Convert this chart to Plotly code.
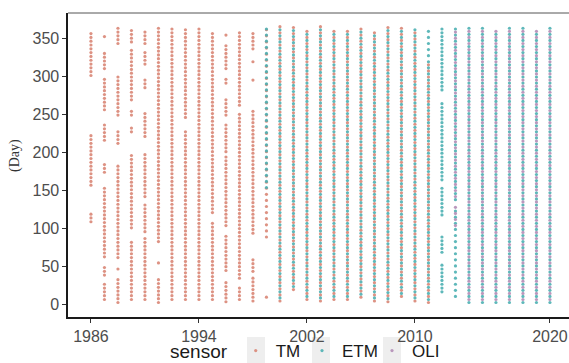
import numpy as np
import plotly.graph_objects as go

# ---- data (acquisition day-of-year windows per year) ----
years = list(range(1986, 2021))

tm_windows = {
    1986: [(301, 358), (157, 223), (109, 120)],
    1987: [(352, 352), (310, 330), (256, 298), (216, 240), (174, 186), (63, 155), (39, 50), (7, 29)],
    1988: [(343, 364), (249, 299), (212, 229), (62, 186), (47, 47), (3, 33)],
    1989: [(345, 364), (269, 334), (249, 256), (227, 236), (101, 199), (7, 83)],
    1990: [(343, 361), (316, 332), (285, 297), (221, 251), (142, 197), (96, 131), (7, 89)],
    1991: [(83, 364), (55, 55), (3, 37)],
    1992: [(7, 365)],
    1993: [(7, 228), (246, 362)],
    1994: [(7, 364)],
    1995: [(7, 110), (121, 358)],
    1996: [(354, 354), (310, 341), (291, 300), (249, 273), (201, 237), (104, 195), (45, 92), (4, 32)],
    1997: [(7, 22), (35, 250), (262, 358)],
    1998: [(336, 360), (319, 319), (295, 295), (94, 256), (44, 59), (5, 35)],
    1999: [(89, 362), (10, 10)],
    2000: [(5, 365)],
    2001: [(20, 365)],
    2002: [(7, 362)],
    2003: [(5, 365)],
    2004: [(7, 362)],
    2005: [(7, 362)],
    2006: [(10, 365)],
    2007: [(5, 360)],
    2008: [(4, 364)],
    2009: [(11, 365)],
    2010: [(5, 362)],
    2011: [(3, 320)],
}

etm_windows = {
    1999: [(150, 362)],
    2000: [(5, 365)],
    2001: [(20, 365)],
    2002: [(7, 362)],
    2003: [(5, 365)],
    2004: [(7, 362)],
    2005: [(7, 362)],
    2006: [(10, 365)],
    2007: [(5, 360)],
    2008: [(4, 364)],
    2009: [(11, 365)],
    2010: [(5, 362)],
    2011: [(3, 362)],
    2012: [(17, 55), (69, 92), (118, 153), (164, 265), (282, 365)],
    2013: [(11, 129), (138, 362)],
    2014: [(3, 364)],
    2015: [(3, 365)],
    2016: [(3, 362)],
    2017: [(3, 364)],
    2018: [(3, 365)],
    2019: [(3, 362)],
    2020: [(3, 364)],
}

oli_windows = {
    2013: [(100, 129), (138, 362)],
    2014: [(3, 364)],
    2015: [(3, 365)],
    2016: [(3, 362)],
    2017: [(3, 364)],
    2018: [(3, 365)],
    2019: [(3, 362)],
    2020: [(3, 364)],
}

single_revisit = 5   # days between scenes when one sensor flies
dual_revisit = 8     # days between scenes per sensor when two sensors fly
x_ticks = [1986, 1994, 2002, 2010, 2020]
y_ticks = [0, 50, 100, 150, 200, 250, 300, 350]

sensor_order = ["TM", "ETM", "OLI"]
sensor_windows = {"TM": tm_windows, "ETM": etm_windows, "OLI": oli_windows}
colors = {"TM": "#D98676", "ETM": "#4DB0B2", "OLI": "#B38DB6"}


def expand(sensor):
    xs, ys = [], []
    for yr, wins in sensor_windows[sensor].items():
        active = [s for s in sensor_order if yr in sensor_windows[s]]
        step = single_revisit if len(active) == 1 else dual_revisit
        offset = 0 if active.index(sensor) == 0 else dual_revisit // 2
        for a, b in wins:
            d = np.arange(a + (offset if b - a >= step else 0), b + 1, step)
            if len(d) == 0:
                d = np.array([a])
            xs.extend([yr] * len(d))
            ys.extend(d.tolist())
    return xs, ys


W, H = 569, 363
ml, mr, mt, mb = 68, 0, 13, 46
pw, ph = W - ml - mr, H - mt - mb


def px_x(p):
    return (p - ml) / pw


def px_y(p):
    return (H - mb - p) / ph


legend_names = {"TM": "legend", "ETM": "legend2", "OLI": "legend3"}

fig = go.Figure()
for s in sensor_order:
    xs, ys = expand(s)
    fig.add_trace(go.Scatter(
        x=xs, y=ys, mode="markers", name=s, legend=legend_names[s],
        marker=dict(size=3.2, color=colors[s], opacity=0.9, line=dict(width=0)),
    ))

shapes = [
    # mask the stray right-edge artefact (no data lives there)
    dict(type="rect", xref="paper", yref="paper", x0=px_x(561), x1=1.01,
         y0=px_y(315.5), y1=px_y(14.5), fillcolor="white", line=dict(width=0), layer="above"),
    dict(type="line", xref="paper", yref="paper", x0=0, x1=1, y0=1, y1=1,
         line=dict(color="#555555", width=1), layer="above"),
]
for k0 in (247, 312, 383):
    shapes.append(dict(type="rect", xref="paper", yref="paper",
                       x0=px_x(k0), x1=px_x(k0 + 18), y0=px_y(363), y1=px_y(337),
                       fillcolor="#EEEEEE", line=dict(width=0), layer="below"))

leg_common = dict(orientation="h", xanchor="left", y=px_y(351), yanchor="middle",
                  font=dict(size=17, color="#1A1A1A"), bgcolor="rgba(0,0,0,0)",
                  itemsizing="trace", visible=True)

fig.update_layout(
    width=W, height=H,
    showlegend=True,
    hovermode=False,
    dragmode=False,
    margin=dict(l=ml, r=mr, t=mt, b=mb, autoexpand=False),
    paper_bgcolor="white", plot_bgcolor="white",
    font=dict(family="Liberation Sans, Arial, sans-serif", color="#4D4D4D"),
    shapes=shapes,
    legend=dict(x=px_x(168), title=dict(text="sensor", font=dict(size=19, color="#1A1A1A")),
                **leg_common),
    legend2=dict(x=px_x(302), **leg_common),
    legend3=dict(x=px_x(372), **leg_common),
    xaxis=dict(
        range=[1984.3, 1984.3 + pw / 13.5], tickvals=x_ticks, showgrid=False, zeroline=False,
        showline=True, linecolor="#1A1A1A", linewidth=1.6, ticks="outside", ticklen=4,
        tickcolor="#333333", tickfont=dict(size=16, color="#4D4D4D"), automargin=False,
        fixedrange=True, mirror=False,
    ),
    yaxis=dict(
        range=[-16, 383], tickvals=y_ticks, showgrid=False, zeroline=False,
        showline=True, linecolor="#1A1A1A", linewidth=1.6, ticks="outside", ticklen=4,
        tickcolor="#333333", tickfont=dict(size=16, color="#4D4D4D"), automargin=False,
        fixedrange=True, mirror=False,
    ),
    annotations=[dict(text="(Day)", xref="paper", yref="paper", x=px_x(15), y=px_y(156),
                      xanchor="center", yanchor="middle", textangle=-90, showarrow=False,
                      font=dict(family="Liberation Serif, Times New Roman, serif",
                                size=14, color="#333333"))],
)

fig.write_html("out.html", config={"displayModeBar": False, "staticPlot": True},
               post_script="document.body.style.margin='0';document.body.style.overflow='hidden';")
